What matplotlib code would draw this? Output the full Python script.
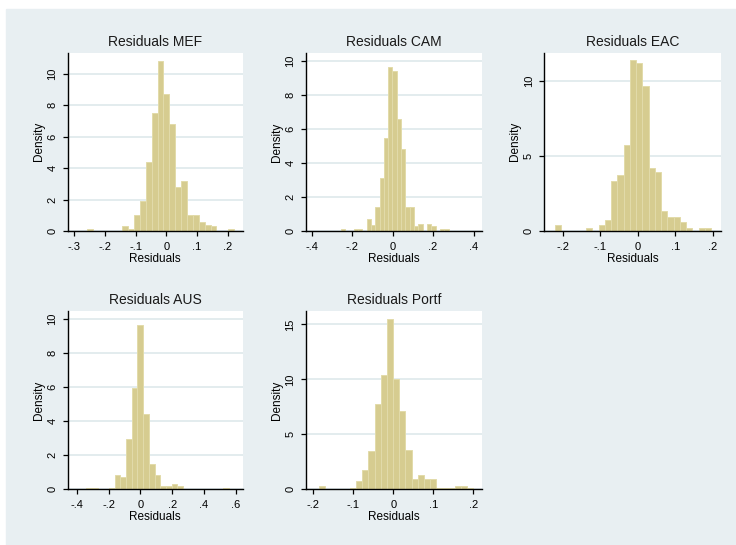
import matplotlib
matplotlib.use('Agg')
import matplotlib.pyplot as plt
import numpy as np
from matplotlib.patches import Rectangle

plt.rcParams['font.family'] = ['Liberation Sans', 'DejaVu Sans']

# histogram densities (25 equal-width bins per panel)
mef_start, mef_width = -0.259, 0.0192
mef_density = [0.1, 0, 0, 0, 0, 0, 0.3, 0.1, 1.0, 1.9, 4.4, 7.5, 10.8, 8.7, 6.8,
               2.8, 3.2, 1.0, 1.0, 0.6, 0.4, 0.3, 0, 0, 0.1]

cam_start, cam_width = -0.2565, 0.0213
cam_density = [0.1, 0, 0, 0.1, 0.1, 0, 0.73, 0.37, 1.39, 3.14, 5.45, 9.67, 9.41,
               6.6, 4.8, 1.39, 1.39, 0.29, 0.41, 0, 0.39, 0.29, 0, 0.1, 0.1]

eac_start, eac_width = -0.2204, 0.01661
eac_density = [0.42, 0, 0, 0, 0, 0.22, 0, 0.42, 0.73, 3.36, 3.76, 5.75, 11.4,
               11.18, 9.71, 4.21, 3.96, 1.36, 0.96, 0.96, 0.58, 0.22, 0, 0.22, 0.22]

aus_start, aus_width = -0.340, 0.0358
aus_density = [0.1, 0.1, 0, 0, 0.1, 0.84, 0.75, 2.98, 5.94, 9.67, 4.45, 1.51,
               0.84, 0.2, 0.2, 0.29, 0.2, 0, 0, 0, 0, 0, 0, 0, 0.1]

portf_start, portf_width = -0.185, 0.01536
portf_density = [0.3, 0, 0, 0, 0, 0.1, 0.75, 1.75, 3.5, 7.8, 10.4, 15.5, 10.0,
                 7.15, 3.6, 0.9, 1.3, 0.9, 0.9, 0.1, 0.1, 0.1, 0.3, 0.3, 0.1]

titles = ['Residuals MEF', 'Residuals CAM', 'Residuals EAC', 'Residuals AUS', 'Residuals Portf']

mef_xticks = [-0.3, -0.2, -0.1, 0, 0.1, 0.2]
mef_xlabels = ['-.3', '-.2', '-.1', '0', '.1', '.2']
cam_xticks = [-0.4, -0.2, 0, 0.2, 0.4]
cam_xlabels = ['-.4', '-.2', '0', '.2', '.4']
eac_xticks = [-0.2, -0.1, 0, 0.1, 0.2]
eac_xlabels = ['-.2', '-.1', '0', '.1', '.2']
aus_xticks = [-0.4, -0.2, 0, 0.2, 0.4, 0.6]
aus_xlabels = ['-.4', '-.2', '0', '.2', '.4', '.6']
portf_xticks = [-0.2, -0.1, 0, 0.1, 0.2]
portf_xlabels = ['-.2', '-.1', '0', '.1', '.2']

yticks_2 = [0, 2, 4, 6, 8, 10]
yticks_5 = [0, 5, 10]
yticks_portf = [0, 5, 10, 15]

BG = '#e8eff2'
BAR = '#d6cc90'
BAR_EDGE = '#e2dbaa'
GRID = '#e3ecee'

W, H = 736, 545
fig = plt.figure(figsize=(W / 100, H / 100), dpi=100)
fig.patches.append(Rectangle((6 / W, 0), (W - 6) / W, (H - 9) / H,
                             transform=fig.transFigure, color=BG, zorder=-10))

# (start, width, density, xticks, xlabels, yticks, xlim, ylim, box in px: left, top, right, bottom)
panels = [
    (mef_start, mef_width, mef_density, mef_xticks, mef_xlabels, yticks_2,
     (-0.3217, 0.249), (0, 11.33), (67.7, 52.7, 242.7, 231)),
    (cam_start, cam_width, cam_density, cam_xticks, cam_xlabels, yticks_2,
     (-0.428, 0.44), (0, 10.45), (306, 53.3, 481.7, 231)),
    (eac_start, eac_width, eac_density, eac_xticks, eac_xlabels, yticks_5,
     (-0.249, 0.2204), (0, 11.9), (544.3, 52.7, 720.7, 231)),
    (aus_start, aus_width, aus_density, aus_xticks, aus_xlabels, yticks_2,
     (-0.4565, 0.6436), (0, 10.5), (67.7, 310.7, 242.7, 489.3)),
    (portf_start, portf_width, portf_density, portf_xticks, portf_xlabels, yticks_portf,
     (-0.2183, 0.2208), (0, 16.24), (306, 310.7, 481.7, 489.3)),
]

for title, (start, width, dens, xt, xl, yt, xlim, ylim, box) in zip(titles, panels):
    l, t, r, b = box
    ax = fig.add_axes([l / W, 1 - b / H, (r - l) / W, (b - t) / H])
    ax.set_facecolor('white')
    edges = start + width * np.arange(len(dens))
    ax.bar(edges, dens, width=width, align='edge', color=BAR,
           edgecolor=BAR_EDGE, linewidth=0.7, zorder=2)
    ax.set_xlim(*xlim)
    ax.set_ylim(*ylim)
    ax.set_xticks(xt)
    ax.set_xticklabels(xl)
    ax.set_yticks(yt)
    ax.yaxis.grid(True, color=GRID, linewidth=1.4)
    ax.set_axisbelow(True)
    for s in ['top', 'right']:
        ax.spines[s].set_visible(False)
    for s in ['left', 'bottom']:
        ax.spines[s].set_linewidth(1.0)
        ax.spines[s].set_color('black')
    ax.tick_params(axis='both', length=3.5, width=0.9, labelsize=8, colors='black')
    ax.tick_params(axis='x', pad=4.5)
    ax.tick_params(axis='y', pad=4, labelrotation=90)
    for lbl in ax.get_yticklabels():
        lbl.set_va('center')
    ax.set_title(title, fontsize=10, pad=5, color='#1a1a1a')
    ax.set_xlabel('Residuals', fontsize=8.5, labelpad=0.5)
    ax.set_ylabel('Density', fontsize=8.5, labelpad=2)

fig.savefig('out.png', dpi=100)
